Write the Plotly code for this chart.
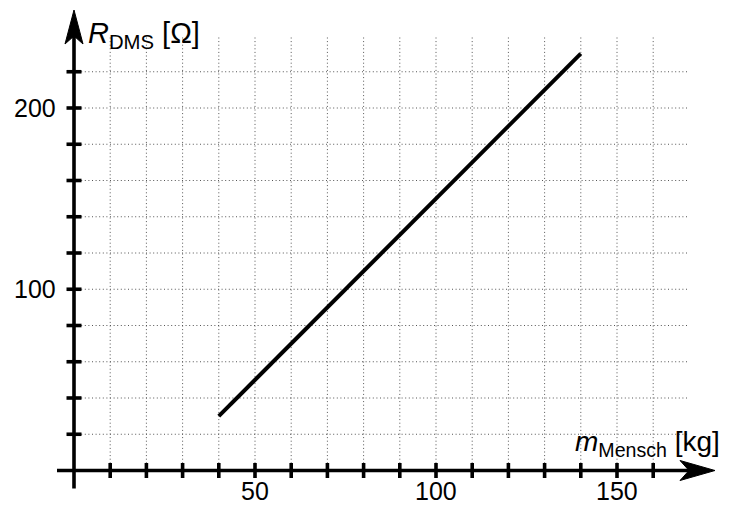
import plotly.graph_objects as go

# ---- data ----
m_mensch = [40, 140]          # kg
r_dms = [30, 230]             # Ohm
x_ticks = list(range(10, 170, 10))
y_ticks = list(range(20, 240, 20))
x_grid = list(range(10, 170, 10))
y_grid = list(range(20, 240, 20))
x_labels = [50, 100, 150]
y_labels = [100, 200]
X_GRID_MAX = 170
Y_GRID_MAX = 240

# ---- layout geometry (page pixels) ----
PAGE_OFF = 8              # default body margin of the html page
W, H = 734 - PAGE_OFF, 506 - PAGE_OFF
OX, OY = 74.0, 470.5      # page pixel position of the origin
SX, SY = 3.62, 1.8125     # pixels per unit

def px2x(px):
    return (px - OX) / SX

def py2y(py):
    return (OY - py) / SY

def dxp(p):
    return p / SX

def dyp(p):
    return p / SY

fig = go.Figure()

# grid
gx, gy = [], []
for v in x_grid:
    gx += [v, v, None]
    gy += [0, Y_GRID_MAX, None]
for v in y_grid:
    gx += [0, X_GRID_MAX, None]
    gy += [v, v, None]
fig.add_trace(go.Scatter(x=gx, y=gy, mode="lines",
                         line=dict(color="#555555", width=1, dash="1px,2.6px"),
                         hoverinfo="skip", showlegend=False))

# data line
fig.add_trace(go.Scatter(x=m_mensch, y=r_dms, mode="lines",
                         line=dict(color="black", width=4),
                         showlegend=False))

# axes
x_tip, y_tip = px2x(715), py2y(10)
fig.add_trace(go.Scatter(x=[px2x(57), x_tip - dxp(24)], y=[0, 0], mode="lines",
                         line=dict(color="black", width=3.6),
                         hoverinfo="skip", showlegend=False))
fig.add_trace(go.Scatter(x=[0, 0], y=[py2y(488.5), y_tip - dyp(24)], mode="lines",
                         line=dict(color="black", width=3.6),
                         hoverinfo="skip", showlegend=False))

# arrow heads
fig.add_trace(go.Scatter(
    x=[x_tip, x_tip - dxp(35), x_tip - dxp(26), x_tip - dxp(35), x_tip],
    y=[0, dyp(10), 0, -dyp(10), 0],
    mode="lines", fill="toself", fillcolor="black",
    line=dict(color="black", width=1), hoverinfo="skip", showlegend=False))
fig.add_trace(go.Scatter(
    x=[0, dxp(9), 0, -dxp(9), 0],
    y=[y_tip, y_tip - dyp(34), y_tip - dyp(26), y_tip - dyp(34), y_tip],
    mode="lines", fill="toself", fillcolor="black",
    line=dict(color="black", width=1), hoverinfo="skip", showlegend=False))

# ticks
tx, ty = [], []
for v in x_ticks:
    tx += [v, v, None]
    ty += [-dyp(7.5), dyp(7.5), None]
for v in y_ticks:
    tx += [-dxp(7.5), dxp(7.5), None]
    ty += [v, v, None]
fig.add_trace(go.Scatter(x=tx, y=ty, mode="lines",
                         line=dict(color="black", width=3.6),
                         hoverinfo="skip", showlegend=False))

FONT = "Liberation Sans"
annotations = []
for v in x_labels:
    annotations.append(dict(x=v, y=py2y(491), text=str(v), showarrow=False,
                            xanchor="center", yanchor="middle", borderpad=0,
                            font=dict(family=FONT, size=25, color="black")))
for v in y_labels:
    annotations.append(dict(x=px2x(57), y=v, text=str(v), showarrow=False,
                            xanchor="right", yanchor="middle", borderpad=0,
                            font=dict(family=FONT, size=25, color="black")))

annotations.append(dict(x=px2x(86), y=py2y(35),
                        text="<i>R</i><sub>DMS</sub> [Ω]", showarrow=False,
                        xanchor="left", yanchor="middle",
                        font=dict(family=FONT, size=29, color="black")))
annotations.append(dict(x=px2x(722), y=py2y(443),
                        text="<i>m</i><sub>Mensch</sub> [kg]", showarrow=False,
                        xanchor="right", yanchor="middle",
                        font=dict(family=FONT, size=28, color="black")))

fig.update_layout(
    width=W, height=H, autosize=False,
    margin=dict(l=0, r=0, t=0, b=0, pad=0),
    paper_bgcolor="white", plot_bgcolor="white",
    xaxis=dict(range=[px2x(PAGE_OFF), px2x(PAGE_OFF + W)], visible=False, fixedrange=True),
    yaxis=dict(range=[py2y(PAGE_OFF + H), py2y(PAGE_OFF)], visible=False, fixedrange=True),
    annotations=annotations,
    showlegend=False,
)

fig.write_html("out.html")
